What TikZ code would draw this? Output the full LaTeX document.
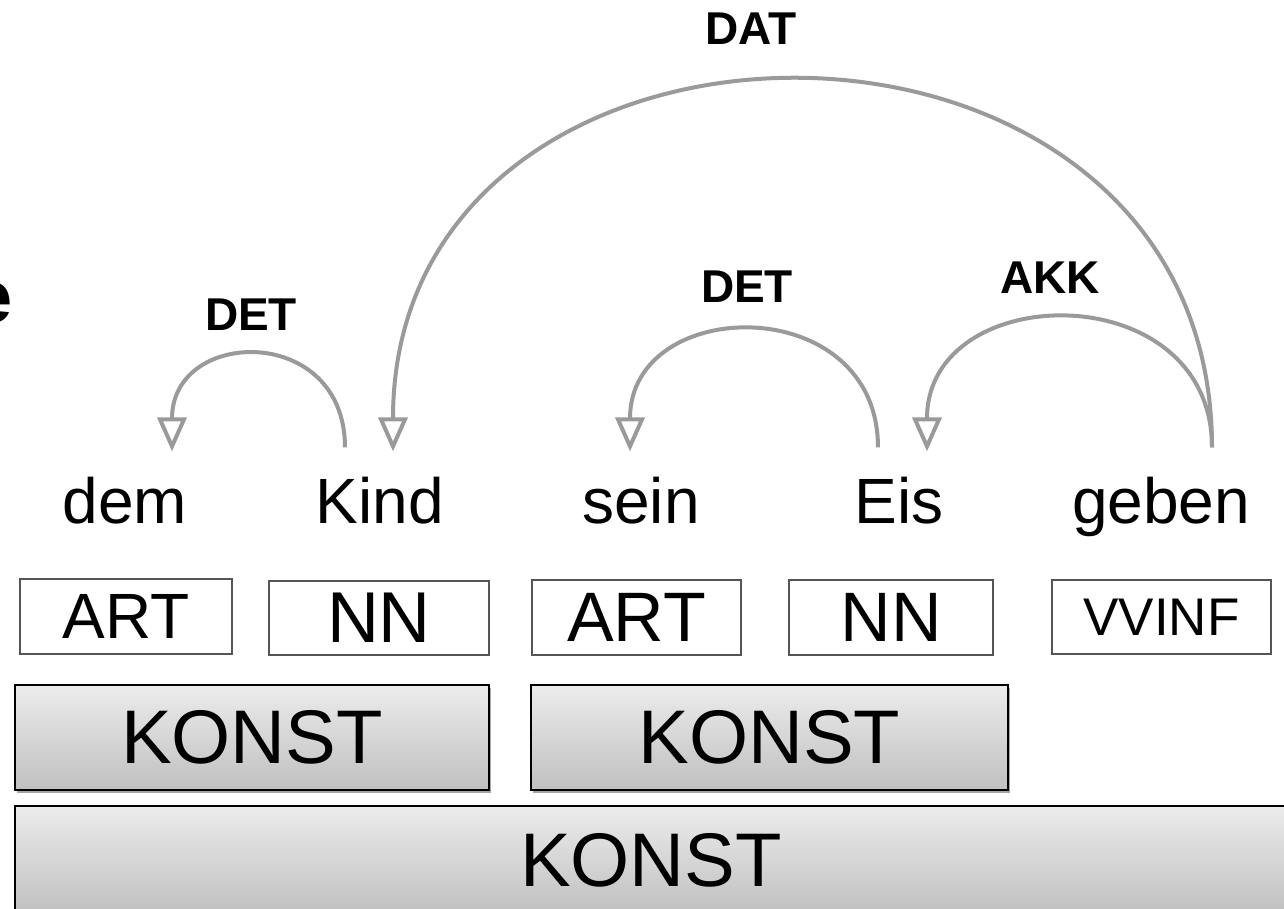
\documentclass[tikz,border=0pt]{standalone}
\usepackage{fontspec}
\setmainfont{Liberation Sans}
\usetikzlibrary{arrows.meta,shadows}
\definecolor{arcgray}{HTML}{9A9A9A}
\definecolor{tagborder}{HTML}{555555}
\begin{document}
\begin{tikzpicture}[x=1pt,y=-1pt,
  word/.style={inner sep=0pt, anchor=base, font=\fontsize{64}{70}\selectfont},
  lbl/.style={inner sep=0pt, anchor=base, font=\fontsize{46}{50}\selectfont\bfseries},
  tag/.style={draw=tagborder, line width=1.3pt, fill=white, inner sep=0pt},
  konst/.style={draw=black, line width=2pt, top color={rgb,255:red,236;green,236;blue,236},
     bottom color={rgb,255:red,192;green,192;blue,192}, inner sep=0pt,
     drop shadow={shadow xshift=2pt, shadow yshift=-3pt, opacity=0.35, fill=black},
     font=\fontsize{76}{80}\selectfont},
  dep/.style={draw=arcgray, line width=4pt,
     -{Triangle[open, length=34pt, width=29pt, line width=4pt]}}]
\useasboundingbox (0,0) rectangle (1284,909);
\clip (0,0) rectangle (1284,909);

% cropped heading letter
\node[inner sep=0pt, anchor=base east, font=\fontsize{74}{80}\selectfont\bfseries] (cut) at (13,322) {e};

% words
\node[word] (dem)   at (125,523)  {dem};
\node[word] (kind)  at (380,523)  {Kind};
\node[word] (sein)  at (641,523)  {sein};
\node[word] (eis)   at (899,523)  {Eis};
\node[word] (geben) at (1161,523) {geben};

% relation labels
\node[lbl] (ldat)  at (751,45)  {DAT};
\node[lbl] (ldet1) at (251,330) {DET};
\node[lbl] (ldet2) at (747,302) {DET};
\node[lbl] (lakk)  at (1050,293) {AKK};

% dependency arcs
\draw[dep] ([xshift=-35pt,yshift=29pt]kind.north) .. controls +(0,-124) and +(0,-124) .. ([xshift=47pt,yshift=25pt]dem.north);
\draw[dep] ([xshift=51pt,yshift=29pt]geben.north) .. controls +(0,-490) and +(0,-490) .. ([xshift=13pt,yshift=25pt]kind.north);
\draw[dep] ([xshift=-21pt,yshift=29pt]eis.north) .. controls +(0,-157) and +(0,-157) .. ([xshift=-11pt,yshift=25pt]sein.north);
\draw[dep] ([xshift=51pt,yshift=29pt]geben.north) .. controls +(0,-173) and +(0,-173) .. ([xshift=28pt,yshift=25pt]eis.north);

% POS tags
\node[tag, minimum width=212pt, minimum height=75pt, font=\fontsize{64}{70}\selectfont] (t1) at (126,616.5) {ART};
\node[tag, minimum width=220pt, minimum height=74pt, font=\fontsize{72}{76}\selectfont] (t2) at (379,618) {NN};
\node[tag, minimum width=209pt, minimum height=75pt, font=\fontsize{70}{74}\selectfont] (t3) at (636.5,617.5) {ART};
\node[tag, minimum width=204pt, minimum height=75pt, font=\fontsize{70}{74}\selectfont] (t4) at (891,617.5) {NN};
\node[tag, minimum width=219pt, minimum height=74pt, font=\fontsize{53}{58}\selectfont] (t5) at (1161.5,617) {VVINF};

% constituents
\node[konst, minimum width=474pt, minimum height=105pt] (k1) at (252,737.5) {KONST};
\node[konst, minimum width=477pt, minimum height=105pt] (k2) at (769.5,737.5) {KONST};
\node[konst, minimum width=1272pt, minimum height=108pt] (k3) at (651,860) {KONST};
\end{tikzpicture}
\end{document}
